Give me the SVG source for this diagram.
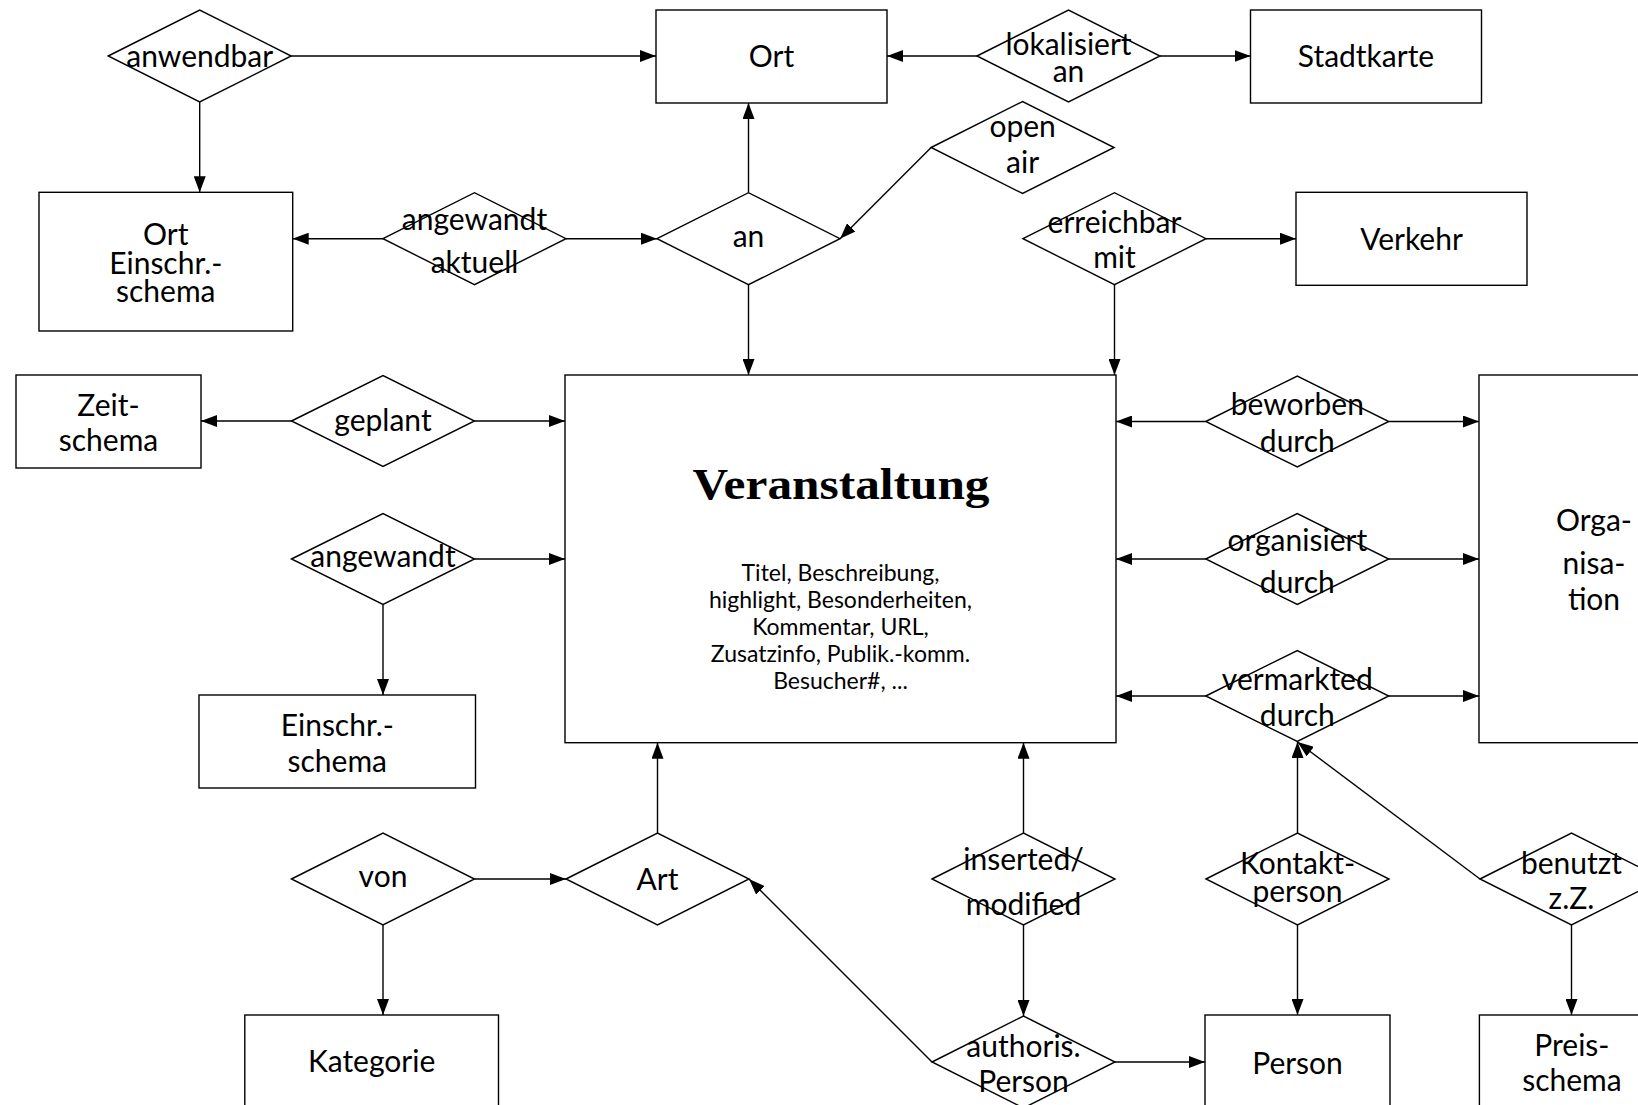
<svg xmlns="http://www.w3.org/2000/svg" width="1638" height="1105" viewBox="0 0 1638 1105">
<style>
.ent{fill:#fff;stroke:#000;stroke-width:1.4}
.rel{fill:#fff;stroke:#000;stroke-width:1.4}
.t{font-family:Lato,"Noto Sans",sans-serif;font-size:30px;fill:#000;text-anchor:middle}
.a{font-family:Lato,"Noto Sans",sans-serif;font-size:23px;fill:#000;text-anchor:middle}
.title{font-family:"Liberation Serif","DejaVu Serif",serif;font-weight:bold;font-size:44px;fill:#000;text-anchor:middle}
.c line{stroke:#000;stroke-width:1.4;marker-end:url(#ah)}
</style>
<defs>
<marker id="ah" markerUnits="userSpaceOnUse" markerWidth="16" markerHeight="12" refX="16" refY="6" orient="auto"><path d="M0,0 L16,6 L0,12 z" fill="#000"/></marker>
</defs>
<rect width="1638" height="1105" fill="#fff"/>
<g id="connectors" class="c">
<line x1="291.2" y1="56" x2="656" y2="56"/>
<line x1="199.7" y1="102" x2="199.7" y2="192.3"/>
<line x1="977" y1="56" x2="887" y2="56"/>
<line x1="1160" y1="56" x2="1250.5" y2="56"/>
<line x1="748.5" y1="192.7" x2="748.5" y2="103"/>
<line x1="931.1" y1="147.5" x2="840" y2="238.7"/>
<line x1="383" y1="238.7" x2="292.7" y2="238.7"/>
<line x1="566" y1="238.7" x2="657" y2="238.7"/>
<line x1="748.5" y1="284.7" x2="748.5" y2="375"/>
<line x1="1206" y1="238.7" x2="1296" y2="238.7"/>
<line x1="1114.5" y1="284.7" x2="1114.5" y2="375"/>
<line x1="291.5" y1="421" x2="201" y2="421"/>
<line x1="474.5" y1="421" x2="565" y2="421"/>
<line x1="474.5" y1="559" x2="565" y2="559"/>
<line x1="383" y1="605" x2="383" y2="695"/>
<line x1="1205.8" y1="421.5" x2="1116" y2="421.5"/>
<line x1="1388.8" y1="421.5" x2="1479" y2="421.5"/>
<line x1="1205.8" y1="559" x2="1116" y2="559"/>
<line x1="1388.8" y1="559" x2="1479" y2="559"/>
<line x1="1205.8" y1="696" x2="1116" y2="696"/>
<line x1="1388.8" y1="696" x2="1479" y2="696"/>
<line x1="474.5" y1="879" x2="566" y2="879"/>
<line x1="383" y1="925" x2="383" y2="1015"/>
<line x1="657.5" y1="833" x2="657.5" y2="742.7"/>
<line x1="1023.5" y1="833" x2="1023.5" y2="742.7"/>
<line x1="1023.5" y1="925" x2="1023.5" y2="1016"/>
<line x1="932" y1="1062" x2="749" y2="879"/>
<line x1="1115" y1="1062" x2="1205" y2="1062"/>
<line x1="1297.5" y1="833" x2="1297.5" y2="742"/>
<line x1="1297.5" y1="925" x2="1297.5" y2="1015"/>
<line x1="1480" y1="879" x2="1297.5" y2="742"/>
<line x1="1571.5" y1="925" x2="1571.5" y2="1015"/>
</g>
<g id="ort"><rect class="ent" x="656" y="10" width="231" height="93"/><text class="t" x="771.5" y="67">Ort</text></g>
<g id="stadtkarte"><rect class="ent" x="1250.5" y="10" width="231" height="93"/><text class="t" x="1366" y="67">Stadtkarte</text></g>
<g id="ort-einschr-schema"><rect class="ent" x="39" y="192.3" width="253.7" height="138.7"/><text class="t" x="165.8" y="245">Ort</text><text class="t" x="165.8" y="273.5">Einschr.-</text><text class="t" x="165.8" y="302">schema</text></g>
<g id="verkehr"><rect class="ent" x="1296" y="192.3" width="231" height="93"/><text class="t" x="1411.5" y="250">Verkehr</text></g>
<g id="zeitschema"><rect class="ent" x="16" y="375" width="185" height="93"/><text class="t" x="108.5" y="416">Zeit-</text><text class="t" x="108.5" y="451">schema</text></g>
<g id="veranstaltung"><rect class="ent" x="565" y="375" width="551" height="367.7"/><text class="title" x="841" y="499" textLength="297" lengthAdjust="spacingAndGlyphs">Veranstaltung</text>
<text class="a" x="840.5" y="581">Titel, Beschreibung,</text>
<text class="a" x="840.5" y="608">highlight, Besonderheiten,</text>
<text class="a" x="840.5" y="635">Kommentar, URL,</text>
<text class="a" x="840.5" y="662">Zusatzinfo, Publik.-komm.</text>
<text class="a" x="840.5" y="689">Besucher#, ...</text></g>
<g id="organisation"><rect class="ent" x="1479" y="375" width="240" height="367.7"/><text class="t" x="1594" y="531">Orga-</text><text class="t" x="1594" y="574">nisa-</text><text class="t" x="1594" y="610">tion</text></g>
<g id="einschr-schema"><rect class="ent" x="199" y="695" width="276.5" height="93"/><text class="t" x="337.3" y="736">Einschr.-</text><text class="t" x="337.3" y="772">schema</text></g>
<g id="kategorie"><rect class="ent" x="244.8" y="1015" width="253.7" height="100"/><text class="t" x="371.6" y="1072">Kategorie</text></g>
<g id="person"><rect class="ent" x="1205" y="1015" width="185" height="100"/><text class="t" x="1297.5" y="1074">Person</text></g>
<g id="preisschema"><rect class="ent" x="1479.4" y="1015" width="185" height="100"/><text class="t" x="1571.9" y="1056">Preis-</text><text class="t" x="1571.9" y="1091">schema</text></g>

<g id="anwendbar"><polygon class="rel" points="108.2,56 199.7,10 291.2,56 199.7,102"/><text class="t" x="199.7" y="66.5">anwendbar</text></g>
<g id="lokalisiert-an"><polygon class="rel" points="977,56 1068.5,10 1160,56 1068.5,102"/><text class="t" x="1068.5" y="55">lokalisiert</text><text class="t" x="1068.5" y="82">an</text></g>
<g id="open-air"><polygon class="rel" points="931.1,147.5 1022.6,101.5 1114.1,147.5 1022.6,193.5"/><text class="t" x="1022.6" y="137">open</text><text class="t" x="1022.6" y="173">air</text></g>
<g id="angewandt-aktuell"><polygon class="rel" points="383,238.7 474.5,192.7 566,238.7 474.5,284.7"/><text class="t" x="474.5" y="230">angewandt</text><text class="t" x="474.5" y="273">aktuell</text></g>
<g id="an"><polygon class="rel" points="657,238.7 748.5,192.7 840,238.7 748.5,284.7"/><text class="t" x="748.5" y="247">an</text></g>
<g id="erreichbar-mit"><polygon class="rel" points="1023,238.7 1114.5,192.7 1206,238.7 1114.5,284.7"/><text class="t" x="1114.5" y="233">erreichbar</text><text class="t" x="1114.5" y="268">mit</text></g>
<g id="geplant"><polygon class="rel" points="291.5,421 383,375.5 474.5,421 383,466.5"/><text class="t" x="383" y="431">geplant</text></g>
<g id="beworben-durch"><polygon class="rel" points="1205.8,421.5 1297.3,376 1388.8,421.5 1297.3,467"/><text class="t" x="1297.3" y="415">beworben</text><text class="t" x="1297.3" y="452">durch</text></g>
<g id="angewandt"><polygon class="rel" points="291.5,559 383,513.5 474.5,559 383,604.5"/><text class="t" x="383" y="567">angewandt</text></g>
<g id="organisiert-durch"><polygon class="rel" points="1205.8,559 1297.3,513.5 1388.8,559 1297.3,604.5"/><text class="t" x="1297.3" y="551">organisiert</text><text class="t" x="1297.3" y="593">durch</text></g>
<g id="vermarkted-durch"><polygon class="rel" points="1205.8,696 1297.3,650.5 1388.8,696 1297.3,741.5"/><text class="t" x="1297.3" y="690">vermarkted</text><text class="t" x="1297.3" y="726">durch</text></g>
<g id="von"><polygon class="rel" points="291.5,879 383,833 474.5,879 383,925"/><text class="t" x="383" y="887">von</text></g>
<g id="art"><polygon class="rel" points="566,879 657.5,833 749,879 657.5,925"/><text class="t" x="657.5" y="890">Art</text></g>
<g id="inserted-modified"><polygon class="rel" points="932,879 1023.5,833 1115,879 1023.5,925"/><text class="t" x="1023.5" y="870">inserted/</text><text class="t" x="1023.5" y="915">modified</text></g>
<g id="kontaktperson"><polygon class="rel" points="1206,879 1297.5,833 1389,879 1297.5,925"/><text class="t" x="1297.5" y="874">Kontakt-</text><text class="t" x="1297.5" y="902">person</text></g>
<g id="benutzt-zz"><polygon class="rel" points="1480,879 1571.5,833 1663,879 1571.5,925"/><text class="t" x="1571.5" y="874">benutzt</text><text class="t" x="1571.5" y="909">z.Z.</text></g>
<g id="authoris-person"><polygon class="rel" points="932,1062 1023.5,1016 1115,1062 1023.5,1108"/><text class="t" x="1023.5" y="1057">authoris.</text><text class="t" x="1023.5" y="1092">Person</text></g>
</svg>
